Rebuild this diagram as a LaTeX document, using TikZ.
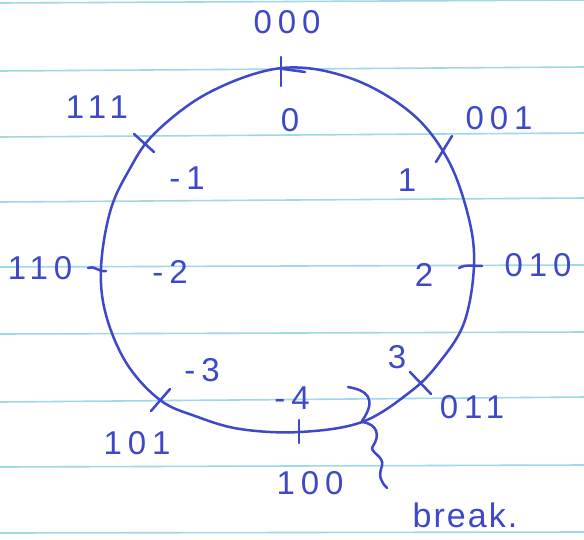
\documentclass[tikz,border=0pt]{standalone}
\usepackage{fontspec}
\setmainfont{Liberation Sans}
\newfontfamily\hand[LetterSpace=18]{Liberation Sans}
\newfontfamily\handnote[LetterSpace=6]{Liberation Sans}
\definecolor{inkblue}{RGB}{62,72,200}
\definecolor{paperline}{RGB}{160,215,235}
\begin{document}
\begin{tikzpicture}[x=1pt,y=-1pt,
  ink/.style={draw=inkblue, line width=2.5pt, line cap=round, line join=round},
  rule/.style={draw=paperline, line width=1.6pt},
  lbl/.style={text=inkblue, font=\hand\fontsize{33}{36}\selectfont, inner sep=0pt},
  note/.style={text=inkblue, font=\handnote\fontsize{34}{36}\selectfont, inner sep=0pt}]
\useasboundingbox (0,0) rectangle (584,539);
\fill[white] (0,0) rectangle (584,539);
% ruled paper
\foreach \a/\b in {3/0,71/67,137/133,202/198,267/265,334/332,402/397,467/465,533/532}
  \draw[rule] (0,\a) -- (584,\b);
% the circle
\draw[ink] plot[smooth cycle, tension=0.6] coordinates {
  (282,68) (350,78) (410,112) (447,158) (468,215) (474,265) (464,323)
  (438,364) (410,392) (362,422) (300,432) (240,429) (195,416) (160,400)
  (127,364) (106,315) (101,268) (110,212) (128,172) (155,133) (210,92)};
% ticks
\draw[ink] (281,57) -- (281,86);
\draw[ink] (283,69) -- (305,72);
\draw[ink] (436,162) -- (452,136);
\draw[ink] (134,134) -- (154,152);
\draw[ink] (88,268) .. controls (94,265) and (98,272) .. (106,271);
\draw[ink] (459,268) .. controls (466,264) and (472,266) .. (482,266);
\draw[ink] (151,411) -- (170,389);
\draw[ink] (410,372) -- (431,394);
\draw[ink] (299,420) -- (299,443);
% break mark
\draw[ink] (348,387) .. controls (366,390) and (378,398) .. (362,421);
\draw[ink] (362,422) .. controls (378,424) and (380,436) .. (373,446)
  .. controls (368,452) and (385,456) .. (382,466)
  .. controls (378,476) and (381,482) .. (387,488);
% labels
\node[lbl] (l000) at (287,22) {000};
\node[lbl] (v0) at (290,120) {0};
\node[lbl] (l111) at (97,107) {111};
\node[lbl] (vm1) at (187,178) {-1};
\node[lbl] (l001) at (499,118) {001};
\node[lbl] (v1) at (407,180) {1};
\node[lbl] (l110) at (40,268) {110};
\node[lbl] (vm2) at (170,272) {-2};
\node[lbl] (v2) at (424,275) {2};
\node[lbl] (l010) at (538,265) {010};
\node[lbl] (vm3) at (202,370) {-3};
\node[lbl] (v3) at (397,357) {3};
\node[lbl] (l011) at (472,407) {011};
\node[lbl] (vm4) at (292,398) {-4};
\node[lbl] (l101) at (137,443) {101};
\node[lbl] (l100) at (310,483) {100};
\node[note] (brk) at (465,515) {break.};
\end{tikzpicture}
\end{document}
